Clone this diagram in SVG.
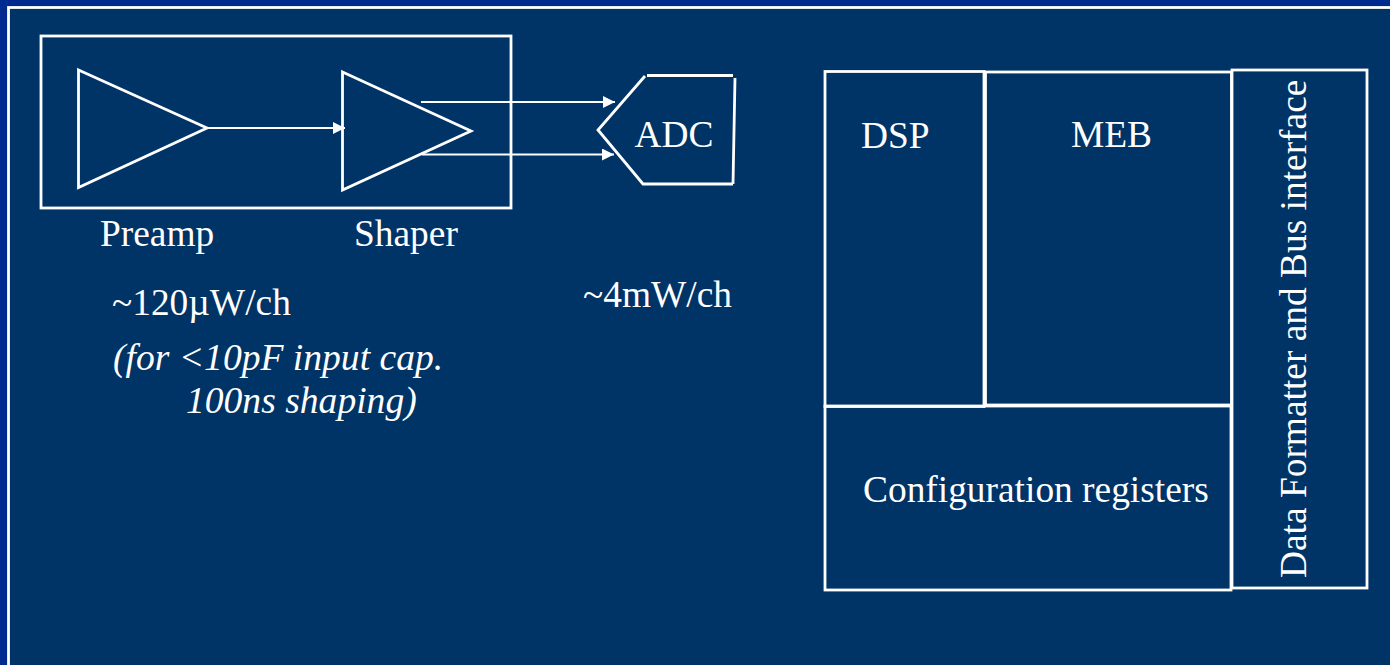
<svg xmlns="http://www.w3.org/2000/svg" width="1390" height="665" viewBox="0 0 1390 665">
<style>
.s{fill:none;stroke:#fff;stroke-width:2.800}
.c{fill:none;stroke:#fff;stroke-width:2.200}
text{font-family:"Liberation Serif","Times New Roman",serif;font-size:37.400px;fill:#fff}
.i{font-style:italic;font-size:37.600px}
</style>
<defs><marker id="a" markerUnits="userSpaceOnUse" markerWidth="14" markerHeight="14" refX="12" refY="6" orient="auto"><path d="M0 0L12 6L0 12Z" fill="#fff"/></marker></defs>
<rect width="1390" height="665" fill="#002a8f"/>
<rect x="8.500" y="7.500" width="1400" height="700" fill="#003366" stroke="#fff" stroke-width="2.800"/>
<g id="frontend"><rect class="s" x="41" y="36" width="470" height="172"/></g>
<g id="preamp"><path class="s" d="M78.500 70L207 128L78.500 187.500Z"/><text x="100" y="246">Preamp</text></g>
<g id="shaper"><path class="s" d="M342.500 72L471 131L342.500 190Z"/><text x="354" y="246">Shaper</text></g>
<g id="adc"><path class="s" d="M645 76L598 130L643 184H733M647 75.500H733M735 78L733 184"/><text x="634.500" y="147">ADC</text></g>
<g id="dsp"><rect class="s" x="825" y="71.500" width="159" height="335"/><text x="861" y="148">DSP</text></g>
<g id="meb"><rect class="s" x="985.500" y="72" width="246" height="333"/><text x="1071" y="147">MEB</text></g>
<g id="config"><rect class="s" x="825" y="406" width="406" height="184"/><text x="863" y="502">Configuration registers</text></g>
<g id="bus"><rect class="s" x="1232" y="70" width="135" height="518"/><text transform="translate(1306 578) rotate(-90)">Data Formatter and Bus interface</text></g>
<g id="connectors">
<path class="c" marker-end="url(#a)" d="M207 128H345"/>
<path class="c" marker-end="url(#a)" d="M421 102H615"/>
<path class="c" marker-end="url(#a)" d="M422 154.500H614"/>
</g>
<g id="labels">
<text x="112" y="315">~120µW/ch</text>
<text x="583" y="307">~4mW/ch</text>
<text class="i" x="113" y="370">(for &lt;10pF input cap.</text>
<text class="i" x="186" y="413">100ns shaping)</text>
</g>
</svg>
